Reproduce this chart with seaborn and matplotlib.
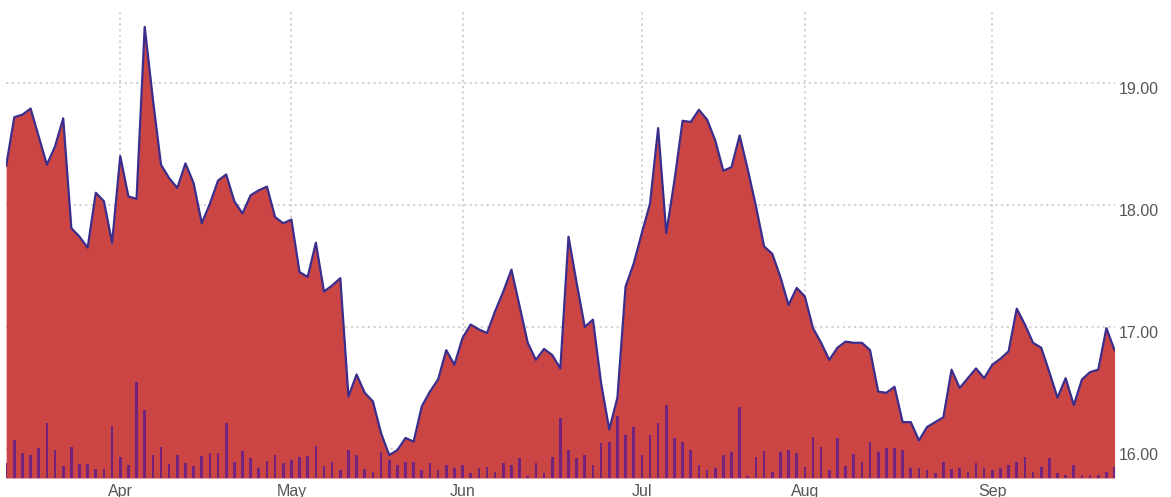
import matplotlib
matplotlib.use("Agg")

import matplotlib.pyplot as plt
import matplotlib.transforms as mtransforms
import pandas as pd
import seaborn as sns

# ── data (one value per trading day) ───────────────────────────────────────────

price = [
    18.32, 18.72, 18.74, 18.79, 18.56, 18.33, 18.48, 18.71, 17.81, 17.74,
    17.65, 18.10, 18.03, 17.69, 18.40, 18.07, 18.05, 19.46, 18.87, 18.33,
    18.22, 18.14, 18.34, 18.18, 17.85, 18.01, 18.20, 18.25, 18.03, 17.93,
    18.08, 18.12, 18.15, 17.90, 17.85, 17.88, 17.45, 17.41, 17.69, 17.29,
    17.34, 17.40, 16.43, 16.61, 16.46, 16.39, 16.13, 15.95, 15.99, 16.09,
    16.06, 16.35, 16.47, 16.57, 16.81, 16.69, 16.91, 17.02, 16.98, 16.95,
    17.13, 17.29, 17.47, 17.17, 16.87, 16.73, 16.82, 16.77, 16.66, 17.74,
    17.36, 17.00, 17.06, 16.54, 16.16, 16.42, 17.33, 17.52, 17.77, 18.01,
    18.63, 17.77, 18.20, 18.69, 18.68, 18.78, 18.70, 18.53, 18.28, 18.31,
    18.57, 18.29, 17.99, 17.66, 17.60, 17.41, 17.18, 17.32, 17.25, 16.99,
    16.87, 16.73, 16.83, 16.88, 16.87, 16.87, 16.81, 16.47, 16.46, 16.51,
    16.22, 16.22, 16.07, 16.18, 16.22, 16.26, 16.65, 16.50, 16.58, 16.66,
    16.58, 16.69, 16.74, 16.80, 17.15, 17.02, 16.87, 16.83, 16.63, 16.42,
    16.58, 16.36, 16.57, 16.63, 16.65, 16.99, 16.81,
]

# volume in 10k shares
volume = [
    15, 38, 25, 23, 30, 55, 28, 12, 31, 14,
    14, 9, 9, 52, 21, 13, 96, 68, 23, 31,
    14, 23, 15, 12, 22, 25, 25, 55, 16, 27,
    20, 10, 17, 23, 15, 18, 21, 22, 32, 12,
    16, 8, 28, 23, 9, 6, 26, 18, 13, 16,
    16, 8, 15, 8, 13, 10, 13, 5, 10, 11,
    6, 15, 13, 20, 2, 15, 5, 21, 60, 28,
    20, 23, 13, 35, 36, 62, 43, 51, 23, 43,
    55, 73, 40, 36, 28, 13, 8, 10, 23, 26,
    71, 2, 21, 27, 6, 26, 28, 25, 11, 41,
    31, 8, 40, 12, 24, 16, 36, 26, 30, 30,
    28, 10, 10, 8, 5, 16, 9, 10, 6, 15,
    10, 8, 10, 13, 16, 21, 6, 11, 20, 5,
    3, 13, 3, 3, 3, 6, 11,
]

month_labels = ["Apr", "May", "Jun", "Jul", "Aug", "Sep"]
month_start_idx = [14, 35, 56, 78, 98, 121]
price_ticks = [16, 17, 18, 19]

# ── styling ───────────────────────────────────────────────────────────────────

FILL = "#cc4545"
LINE = "#3a2d8c"
BAR = "#72247c"
GRID = "#c9c9c9"
TEXT = "#555555"

sns.set_style("white")
plt.rcParams["font.family"] = ["Liberation Sans", "DejaVu Sans"]

df = pd.DataFrame({"day": range(len(price)), "price": price, "volume": volume})

W, H = 1171, 497
fig = plt.figure(figsize=(W / 100, H / 100), dpi=100)
x0, x1 = 6.15, 1114.55
y_top, y_bot = 10, 478
ax = fig.add_axes([x0 / W, (H - y_bot) / H, (x1 - x0) / W, (y_bot - y_top) / H])

ymin, ymax = 15.762, 19.598
ax.fill_between(df["day"], df["price"], ymin, color=FILL, linewidth=0, zorder=2)
sns.lineplot(data=df, x="day", y="price", ax=ax, color=LINE, linewidth=1.6, zorder=4)

ax.set_xlim(0, len(price) - 1)
ax.set_ylim(ymin, ymax)
ax.set_axisbelow(True)
ax.grid(True, color=GRID, linestyle=(0, (1.5, 2.2)), linewidth=1.1)
ax.set_xlabel("")
ax.set_ylabel("")
for s in ax.spines.values():
    s.set_visible(False)

# volume bars on a twin axis
ax2 = ax.twinx()
ax2.bar(df["day"], df["volume"], width=0.32, color=BAR, linewidth=0, zorder=3)
ax2.set_ylim(0, y_bot - y_top)
ax2.set_yticks([])
for s in ax2.spines.values():
    s.set_visible(False)

# ticks (twinx moves the price ticks to the left, so set them after)
ax.set_xticks(month_start_idx)
ax.set_xticklabels(month_labels)
ax.set_yticks(price_ticks)
ax.set_yticklabels([f"{v:.2f}" for v in price_ticks])
ax.yaxis.tick_right()
ax.tick_params(axis="both", length=0, colors=TEXT, labelsize=11.5)
ax.tick_params(axis="x", pad=4)
ax.tick_params(axis="y", pad=3, labelleft=False, labelright=True)

# shift price labels a little below their gridline, like the original
shift = mtransforms.ScaledTranslation(0, -5 / 100, fig.dpi_scale_trans)
for t in ax.yaxis.get_major_ticks():
    t.label2.set_transform(t.label2.get_transform() + shift)

fig.savefig("out.png", dpi=100)
plt.close(fig)
